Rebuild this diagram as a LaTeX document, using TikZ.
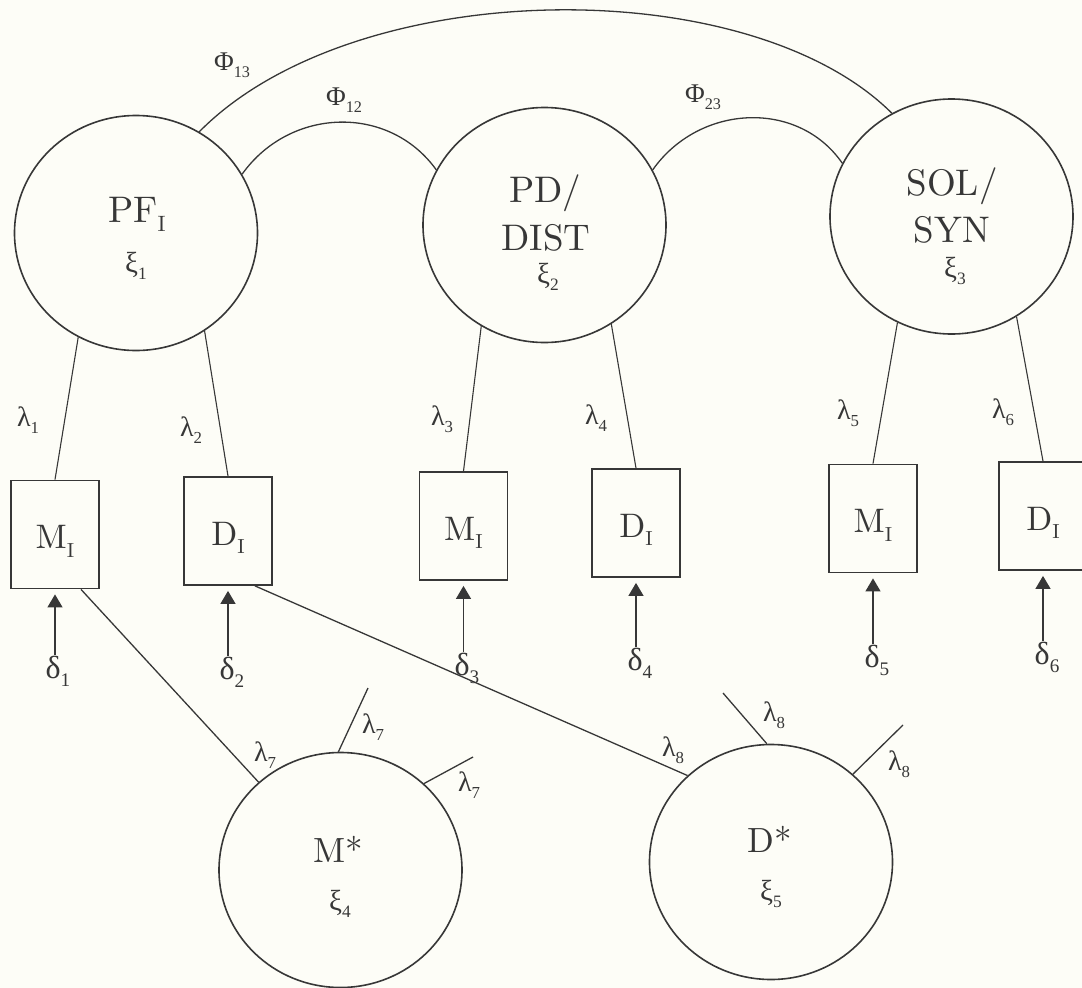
\documentclass[tikz,border=0pt]{standalone}
\usepackage{fontspec}
\setmainfont{lmroman10-regular.otf}
\newfontfamily\grk{Liberation Serif}
\usetikzlibrary{shapes.geometric,arrows.meta}
\definecolor{ink}{RGB}{55,55,55}
\definecolor{paper}{RGB}{253,253,247}
\newcommand{\fmain}{\fontsize{37}{42}\selectfont}
\newcommand{\fstar}{\fontsize{35}{40}\selectfont}
\newcommand{\fobs}{\fontsize{34}{38}\selectfont}
\newcommand{\fxi}{\fontsize{29}{34}\selectfont}
\newcommand{\flam}{\fontsize{28}{30}\selectfont}
\newcommand{\fdel}{\fontsize{32}{34}\selectfont}
\newcommand{\fphi}{\fontsize{27}{30}\selectfont}
\newcommand{\lowr}[1]{\raisebox{-0.25em}{\scalebox{0.6}{#1}}}
\begin{document}
\begin{tikzpicture}[x=1pt,y=-1pt,
  lat/.style={ellipse, draw=ink, line width=1.6pt, minimum width=243pt, minimum height=235pt, inner sep=0pt},
  obs/.style={rectangle, draw=ink, line width=1.8pt, minimum width=88pt, minimum height=108pt, inner sep=0pt, text height=28pt, text depth=0pt, font=\fobs, text=ink},
  ttl/.style={anchor=base, inner sep=0pt, font=\fmain, text=ink},
  sttl/.style={anchor=base, inner sep=0pt, font=\fstar, text=ink},
  xil/.style={anchor=base, inner sep=0pt, font=\fxi\grk, text=ink},
  laml/.style={inner sep=1pt, font=\flam\grk, text=ink},
  dell/.style={inner sep=1pt, font=\fdel\grk, text=ink},
  phil/.style={inner sep=1pt, font=\fphi\grk, text=ink},
  link/.style={draw=ink, line width=1.3pt},
  thin/.style={draw=ink, line width=1.1pt},
  arr/.style={draw=ink, line width=1.3pt, -{Triangle[width=15pt,length=13pt]}, shorten >=5pt}]

\path[use as bounding box, fill=paper] (0,0) rectangle (1082,988);

% latent variables
\node[lat] (pfi) at (136,233) {};
\node[lat] (pd) at (544.5,225) {};
\node[lat] (sol) at (951.5,216.5) {};
\node[lat] (ms) at (340.5,870) {};
\node[lat] (ds) at (771,862) {};

\node[ttl] (pfit) at (137,222) {PF\lowr{I}};
\node[xil] (xi1) at (136,272) {ξ\lowr{1}};
\node[ttl] (pdt1) at (545,202) {PD/};
\node[ttl] (pdt2) at (546,250) {DIST};
\node[xil] (xi2) at (548,283) {ξ\lowr{2}};
\node[ttl] (solt1) at (952,195) {SOL/};
\node[ttl] (solt2) at (952,242) {SYN};
\node[xil] (xi3) at (955,277) {ξ\lowr{3}};
\node[sttl] (mst) at (338,862) {M*};
\node[xil] (xi4) at (340,910) {ξ\lowr{4}};
\node[sttl] (dst) at (770,852) {D*};
\node[xil] (xi5) at (771,900) {ξ\lowr{5}};

% observed variables
\node[obs] (m1) at (55,534.5) {M\lowr{I}};
\node[obs] (d1) at (228,531) {D\lowr{I}};
\node[obs] (m2) at (463.5,526) {M\lowr{I}};
\node[obs] (d2) at (636,523) {D\lowr{I}};
\node[obs] (m3) at (873,518.5) {M\lowr{I}};
\node[obs] (d3) at (1043,516) {D\lowr{I}};

% loadings
\draw[thin] (pfi.241.3) -- (m1.north);
\draw[thin] (pfi.305.8) -- (d1.north);
\draw[thin] (pd.238.8) -- (m2.north);
\draw[thin] (pd.304.9) -- (d2.north);
\draw[thin] (sol.243.8) -- (m3.north);
\draw[thin] (sol.303.8) -- (d3.north);

\node[laml] (l1) at (28,420) {λ\lowr{1}};
\node[laml] (l2) at (191,430) {λ\lowr{2}};
\node[laml] (l3) at (442,419) {λ\lowr{3}};
\node[laml] (l4) at (596,418) {λ\lowr{4}};
\node[laml] (l5) at (848,413) {λ\lowr{5}};
\node[laml] (l6) at (1003,412) {λ\lowr{6}};

% covariances
\draw[link] (pfi.29) .. controls (290,107) and (389,104) .. (pd.153.3);
\draw[link] (pd.27.3) .. controls (699,104) and (798,99) .. (sol.154);
\draw[link] (pfi.58) .. controls (354,-25) and (748,-30) .. (sol.120);
\node[phil] (p12) at (344,100) {Φ\lowr{12}};
\node[phil] (p23) at (703,97) {Φ\lowr{23}};
\node[phil] (p13) at (232,65) {Φ\lowr{13}};

% errors
\node[dell] (e1) at (58,671) {δ\lowr{1}};
\node[dell] (e2) at (232,672) {δ\lowr{2}};
\node[dell] (e3) at (467,668) {δ\lowr{3}};
\node[dell] (e4) at (640,663) {δ\lowr{4}};
\node[dell] (e5) at (877,660) {δ\lowr{5}};
\node[dell] (e6) at (1047,657) {δ\lowr{6}};
\draw[arr] (e1.north -| m1.south) -- (m1.south);
\draw[arr] (e2.north -| d1.south) -- (d1.south);
\draw[arr] (e3.north -| m2.south) -- (m2.south);
\draw[arr] (e4.north -| d2.south) -- (d2.south);
\draw[arr] (e5.north -| m3.south) -- (m3.south);
\draw[arr] (e6.north -| d3.south) -- (d3.south);

% method factors
\draw[link] ([xshift=26pt]m1.south) -- (ms.133.5);
\draw[link] ([xshift=27pt]d1.south) -- (ds.134.7);
\coordinate (s7a) at (368,688);
\coordinate (s7b) at (473,757);
\coordinate (s8a) at (723,693);
\coordinate (s8b) at (903,725);
\draw[link] (ms.91) -- (s7a);
\draw[link] (ms.46.5) -- (s7b);
\draw[link] (ds.92) -- (s8a);
\draw[link] (ds.47.7) -- (s8b);

\node[laml] (l7a) at (265,755) {λ\lowr{7}};
\node[laml] (l7b) at (373,727) {λ\lowr{7}};
\node[laml] (l7c) at (469,785) {λ\lowr{7}};
\node[laml] (l8a) at (673,750) {λ\lowr{8}};
\node[laml] (l8b) at (774,715) {λ\lowr{8}};
\node[laml] (l8c) at (899,764) {λ\lowr{8}};
\end{tikzpicture}
\end{document}
